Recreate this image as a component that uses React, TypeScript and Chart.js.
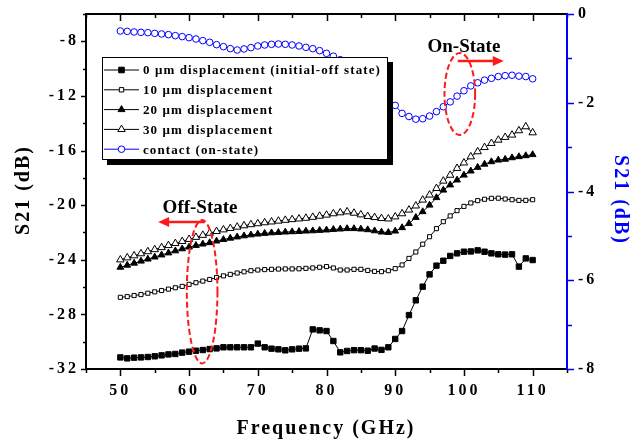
import React, { useEffect, useRef } from 'react';
import { Chart, registerables } from 'chart.js';

Chart.register(...registerables);

// ---------------- data ----------------
const FREQ = [
  50, 51, 52, 53, 54, 55, 56, 57, 58, 59,
  60, 61, 62, 63, 64, 65, 66, 67, 68, 69,
  70, 71, 72, 73, 74, 75, 76, 77, 78, 79,
  80, 81, 82, 83, 84, 85, 86, 87, 88, 89,
  90, 91, 92, 93, 94, 95, 96, 97, 98, 99,
  100, 101, 102, 103, 104, 105, 106, 107, 108, 109, 110,
];

// 0 um displacement (initial-off state), left axis (dB)
const S21_0UM = [
  -31.15, -31.22, -31.17, -31.15, -31.12, -31.07, -31.0, -30.93, -30.9, -30.8,
  -30.73, -30.66, -30.61, -30.54, -30.49, -30.41, -30.41, -30.41, -30.41, -30.41,
  -30.14, -30.41, -30.51, -30.56, -30.63, -30.56, -30.51, -30.49, -29.1, -29.17,
  -29.22, -29.95, -30.78, -30.68, -30.62, -30.62, -30.66, -30.5, -30.6, -30.41,
  -29.8, -29.22, -28.05, -26.97, -25.97, -25.07, -24.43, -24.07, -23.72, -23.53,
  -23.41, -23.39, -23.31, -23.41, -23.53, -23.6, -23.62, -23.6, -24.5, -23.9, -24.02,
];

// 10 um displacement
const S21_10UM = [
  -26.75, -26.7, -26.62, -26.55, -26.45, -26.35, -26.25, -26.15, -26.05, -25.95,
  -25.8, -25.68, -25.56, -25.44, -25.3, -25.18, -25.07, -24.97, -24.88, -24.8,
  -24.75, -24.72, -24.7, -24.68, -24.67, -24.67, -24.66, -24.63, -24.6, -24.55,
  -24.5, -24.6, -24.75, -24.75, -24.7, -24.7, -24.78, -24.85, -24.87, -24.8,
  -24.65, -24.38, -23.9, -23.43, -22.86, -22.31, -21.72, -21.21, -20.79, -20.4,
  -20.09, -19.84, -19.67, -19.57, -19.5, -19.49, -19.55, -19.6, -19.65, -19.65, -19.6,
];

// 20 um displacement
const S21_20UM = [
  -24.55, -24.4, -24.25, -24.1, -23.95, -23.8, -23.65, -23.5, -23.35, -23.2,
  -23.07, -22.95, -22.85, -22.75, -22.63, -22.52, -22.42, -22.33, -22.25, -22.18,
  -22.12, -22.07, -22.03, -22.0, -21.97, -21.95, -21.93, -21.9, -21.88, -21.85,
  -21.82, -21.78, -21.75, -21.72, -21.72, -21.75, -21.8, -21.88, -21.97, -22.0,
  -21.9, -21.65, -21.35, -20.9, -20.48, -20.0, -19.45, -18.9, -18.52, -18.16,
  -17.8, -17.5, -17.23, -17.0, -16.82, -16.7, -16.64, -16.53, -16.45, -16.38, -16.3,
];

// 30 um displacement
const S21_30UM = [
  -24.0, -23.85, -23.7, -23.55, -23.4, -23.25, -23.1, -22.95, -22.8, -22.65,
  -22.5, -22.35, -22.2, -22.05, -21.92, -21.8, -21.7, -21.6, -21.5, -21.42,
  -21.35, -21.28, -21.22, -21.16, -21.1, -21.05, -21.0, -20.95, -20.88, -20.8,
  -20.72, -20.62, -20.55, -20.48, -20.58, -20.7, -20.82, -20.9, -20.97, -21.0,
  -20.85, -20.62, -20.35, -20.05, -19.62, -19.25, -18.77, -18.23, -17.8, -17.3,
  -16.9, -16.45, -16.08, -15.77, -15.47, -15.23, -15.03, -14.86, -14.54, -14.25, -14.69,
];

// contact (on-state), right axis (dB)
const S21_CONTACT = [
  -0.383, -0.391, -0.405, -0.413, -0.42, -0.436, -0.45, -0.465, -0.488, -0.51,
  -0.533, -0.563, -0.6, -0.638, -0.691, -0.736, -0.781, -0.811, -0.788, -0.758,
  -0.721, -0.698, -0.683, -0.676, -0.683, -0.698, -0.721, -0.751, -0.781, -0.826,
  -0.886, -0.95, -1.03, -1.13, -1.25, -1.38, -1.52, -1.66, -1.8, -1.93,
  -2.06, -2.24, -2.31, -2.37, -2.36, -2.3, -2.2, -2.09, -1.98, -1.85,
  -1.73, -1.62, -1.55, -1.49, -1.45, -1.41, -1.39, -1.38, -1.4, -1.41, -1.46,
];

const SERIES_LABELS = [
  '0 μm displacement (initial-off state)',
  '10 μm displacement',
  '20 μm displacement',
  '30 μm displacement',
  'contact (on-state)',
];

const X_TITLE = 'Frequency (GHz)';
const Y_TITLE = 'S21 (dB)';
const Y2_TITLE = 'S21 (dB)';
const ON_LABEL = 'On-State';
const OFF_LABEL = 'Off-State';

const FONT = '"Liberation Serif", "Times New Roman", serif';
const BLUE = '#0000ff';
const RED = '#ff1a1a';

type Marker = 'rect' | 'rectOpen' | 'tri' | 'triOpen' | 'circle';

function drawMarker(ctx: CanvasRenderingContext2D, kind: Marker, x: number, y: number) {
  ctx.save();
  ctx.lineWidth = 1;
  ctx.beginPath();
  if (kind === 'rect' || kind === 'rectOpen') {
    const s = kind === 'rect' ? 2.8 : 2.2;
    ctx.rect(x - s, y - s, 2 * s, 2 * s);
    ctx.fillStyle = kind === 'rect' ? '#000' : '#fff';
    ctx.strokeStyle = '#000';
  } else if (kind === 'tri' || kind === 'triOpen') {
    const r = kind === 'tri' ? 4 : 4.3;
    for (let i = 0; i < 3; i++) {
      const a = (i * 2 * Math.PI) / 3;
      const px = x + Math.sin(a) * r;
      const py = y - Math.cos(a) * r;
      if (i === 0) ctx.moveTo(px, py);
      else ctx.lineTo(px, py);
    }
    ctx.closePath();
    ctx.fillStyle = kind === 'tri' ? '#000' : '#fff';
    ctx.strokeStyle = '#000';
  } else {
    ctx.arc(x, y, 3.3, 0, Math.PI * 2);
    ctx.fillStyle = '#fff';
    ctx.strokeStyle = BLUE;
  }
  ctx.fill();
  ctx.stroke();
  ctx.restore();
}

const LEGEND_MARKERS: Marker[] = ['rect', 'rectOpen', 'tri', 'triOpen', 'circle'];
const LEGEND_COLORS = ['#000', '#000', '#000', '#000', BLUE];

const overlayPlugin = {
  id: 'overlay',
  beforeDraw(chart: any) {
    const ctx = chart.ctx as CanvasRenderingContext2D;
    (ctx as any).letterSpacing = '3px';
    ctx.save();
    ctx.fillStyle = '#fff';
    ctx.fillRect(0, 0, chart.width, chart.height);
    ctx.restore();
  },
  afterDatasetsDraw(chart: any) {
    const ctx = chart.ctx as CanvasRenderingContext2D;
    const { left, right, top, bottom } = chart.chartArea;
    const xs = chart.scales.x;
    const ys = chart.scales.y;
    const y2 = chart.scales.y2;
    ctx.save();
    (ctx as any).letterSpacing = '0px';

    // ---- ticks ----
    ctx.strokeStyle = '#000';
    ctx.lineWidth = 1.5;
    for (let v = 45; v <= 115; v += 5) {
      const px = Math.round(xs.getPixelForValue(v)) + 0.5;
      const len = v % 10 === 0 ? 7 : 4;
      ctx.beginPath();
      ctx.moveTo(px, bottom);
      ctx.lineTo(px, bottom + len);
      ctx.moveTo(px, top);
      ctx.lineTo(px, top + len);
      ctx.stroke();
    }
    for (let v = -32; v <= -6; v += 2) {
      const py = Math.round(ys.getPixelForValue(v)) + 0.5;
      const len = v % 4 === 0 ? 5 : 3;
      ctx.beginPath();
      ctx.moveTo(left, py);
      ctx.lineTo(left - len, py);
      ctx.stroke();
    }
    ctx.strokeStyle = BLUE;
    for (let v = -8; v <= 0; v += 1) {
      const py = Math.round(y2.getPixelForValue(v)) + 0.5;
      const len = v % 2 === 0 ? 7 : 5;
      ctx.beginPath();
      ctx.moveTo(right, py);
      ctx.lineTo(right + len, py);
      ctx.stroke();
    }

    // ---- frame ----
    ctx.lineWidth = 2;
    ctx.strokeStyle = '#000';
    ctx.beginPath();
    ctx.moveTo(left, top);
    ctx.lineTo(right, top);
    ctx.moveTo(left, bottom);
    ctx.lineTo(right, bottom);
    ctx.moveTo(left, top - 1);
    ctx.lineTo(left, bottom + 1);
    ctx.stroke();
    ctx.strokeStyle = BLUE;
    ctx.beginPath();
    ctx.moveTo(right, top - 1);
    ctx.lineTo(right, bottom + 1);
    ctx.stroke();

    // ---- annotations (data coordinates, left axis) ----
    const ellipse = (cx: number, cy: number, rxG: number, ryD: number) => {
      const px = xs.getPixelForValue(cx);
      const py = ys.getPixelForValue(cy);
      const rx = Math.abs(xs.getPixelForValue(cx + rxG) - px);
      const ry = Math.abs(ys.getPixelForValue(cy + ryD) - py);
      ctx.save();
      ctx.strokeStyle = RED;
      ctx.lineWidth = 2;
      ctx.setLineDash([6, 3]);
      ctx.beginPath();
      ctx.ellipse(px, py, rx, ry, 0, 0, Math.PI * 2);
      ctx.stroke();
      ctx.restore();
    };
    const arrow = (x0: number, x1: number, yv: number) => {
      const p0 = xs.getPixelForValue(x0);
      const p1 = xs.getPixelForValue(x1);
      const py = ys.getPixelForValue(yv);
      const dir = Math.sign(p1 - p0);
      ctx.save();
      ctx.strokeStyle = RED;
      ctx.fillStyle = RED;
      ctx.lineWidth = 2.5;
      ctx.beginPath();
      ctx.moveTo(p0, py);
      ctx.lineTo(p1 - dir * 9, py);
      ctx.stroke();
      ctx.beginPath();
      ctx.moveTo(p1, py);
      ctx.lineTo(p1 - dir * 11, py - 5);
      ctx.lineTo(p1 - dir * 11, py + 5);
      ctx.closePath();
      ctx.fill();
      ctx.restore();
    };
    const label = (text: string, xv: number, yv: number) => {
      ctx.save();
      ctx.fillStyle = '#000';
      ctx.font = `bold 19px ${FONT}`;
      ctx.textAlign = 'center';
      ctx.textBaseline = 'middle';
      ctx.fillText(text, xs.getPixelForValue(xv), ys.getPixelForValue(yv));
      ctx.restore();
    };

    ellipse(99.4, -11.86, 2.23, 3.0);
    arrow(99.1, 105.8, -9.44);
    label(ON_LABEL, 100.0, -8.45);

    ellipse(61.9, -26.34, 2.23, 5.25);
    arrow(62.3, 55.5, -21.23);
    label(OFF_LABEL, 61.6, -20.2);

    // ---- legend box ----
    const LX = 102, LY = 57, LW = 286, LH = 103;
    ctx.fillStyle = '#000';
    ctx.fillRect(LX + 5, LY + 5, LW, LH);
    ctx.fillStyle = '#fff';
    ctx.fillRect(LX, LY, LW, LH);
    ctx.strokeStyle = '#000';
    ctx.lineWidth = 1;
    ctx.strokeRect(LX + 0.5, LY + 0.5, LW - 1, LH - 1);
    ctx.font = `bold 13px ${FONT}`;
    (ctx as any).letterSpacing = '1.1px';
    ctx.textAlign = 'left';
    ctx.textBaseline = 'middle';
    SERIES_LABELS.forEach((t, i) => {
      const ry = LY + 13 + i * 19.8;
      ctx.strokeStyle = LEGEND_COLORS[i];
      ctx.lineWidth = 1;
      ctx.beginPath();
      ctx.moveTo(104, ry);
      ctx.lineTo(139, ry);
      ctx.stroke();
      drawMarker(ctx, LEGEND_MARKERS[i], 121.5, ry);
      ctx.fillStyle = '#000';
      ctx.fillText(t, 143, ry + 1);
    });

    // ---- axis titles ----
    ctx.font = `bold 20px ${FONT}`;
    (ctx as any).letterSpacing = '2px';
    ctx.textAlign = 'center';
    ctx.textBaseline = 'middle';
    ctx.fillStyle = '#000';
    ctx.fillText(X_TITLE, 326, 429);

    ctx.save();
    ctx.translate(24, 190);
    ctx.rotate(-Math.PI / 2);
    ctx.fillText(Y_TITLE, 0, 0);
    ctx.restore();

    ctx.save();
    ctx.translate(620, 200);
    ctx.rotate(Math.PI / 2);
    ctx.fillStyle = BLUE;
    ctx.fillText(Y2_TITLE, 0, 0);
    ctx.restore();

    ctx.restore();
  },
};

const noPadV = (w: number) => (s: any) => {
  s.width = w;
  s.paddingTop = 0;
  s.paddingBottom = 0;
};

export default function App() {
  const ref = useRef<HTMLCanvasElement>(null);

  useEffect(() => {
    if (!ref.current) return;
    const pts = (ys: number[]) => FREQ.map((x, i) => ({ x, y: ys[i] }));
    const tickFont = { family: FONT, size: 16, weight: 'bold' as const };

    const chart = new Chart(ref.current, {
      type: 'line',
      data: {
        datasets: [
          {
            label: SERIES_LABELS[0],
            data: pts(S21_0UM),
            yAxisID: 'y',
            borderColor: '#000',
            borderWidth: 1,
            pointStyle: 'rect',
            pointRadius: 3.8,
            pointBackgroundColor: '#000',
            pointBorderColor: '#000',
            pointBorderWidth: 1,
          },
          {
            label: SERIES_LABELS[1],
            data: pts(S21_10UM),
            yAxisID: 'y',
            borderColor: '#000',
            borderWidth: 1,
            pointStyle: 'rect',
            pointRadius: 2.9,
            pointBackgroundColor: '#fff',
            pointBorderColor: '#000',
            pointBorderWidth: 1,
          },
          {
            label: SERIES_LABELS[2],
            data: pts(S21_20UM),
            yAxisID: 'y',
            borderColor: '#000',
            borderWidth: 1,
            pointStyle: 'triangle',
            pointRadius: 3.9,
            pointBackgroundColor: '#000',
            pointBorderColor: '#000',
            pointBorderWidth: 1,
          },
          {
            label: SERIES_LABELS[3],
            data: pts(S21_30UM),
            yAxisID: 'y',
            borderColor: '#000',
            borderWidth: 1,
            pointStyle: 'triangle',
            pointRadius: 4.3,
            pointBackgroundColor: '#fff',
            pointBorderColor: '#000',
            pointBorderWidth: 1,
          },
          {
            label: SERIES_LABELS[4],
            data: pts(S21_CONTACT),
            yAxisID: 'y2',
            borderColor: BLUE,
            borderWidth: 1,
            pointStyle: 'circle',
            pointRadius: 3.3,
            pointBackgroundColor: '#fff',
            pointBorderColor: BLUE,
            pointBorderWidth: 1,
          },
        ],
      },
      options: {
        responsive: false,
        animation: false,
        devicePixelRatio: 1,
        layout: { padding: { top: 14, left: 0, right: 0, bottom: 0 } },
        plugins: {
          legend: { display: false },
          tooltip: { enabled: false },
        },
        elements: { line: { tension: 0 } },
        scales: {
          x: {
            type: 'linear',
            position: 'bottom',
            min: 45,
            max: 115,
            afterFit: (s: any) => {
              s.height = 74;
              s.paddingLeft = 0;
              s.paddingRight = 0;
            },
            grid: { display: false, drawTicks: false },
            border: { display: false },
            ticks: {
              stepSize: 5,
              autoSkip: false,
              maxRotation: 0,
              padding: 12,
              color: '#000',
              font: tickFont,
              callback: (v: any) => (Number(v) % 10 === 0 && v >= 50 && v <= 110 ? String(v) : ''),
            },
          },
          y: {
            type: 'linear',
            position: 'left',
            min: -32,
            max: -6,
            afterFit: noPadV(86),
            grid: { display: false, drawTicks: false },
            border: { display: false },
            ticks: {
              stepSize: 2,
              autoSkip: false,
              padding: 7,
              color: '#000',
              font: tickFont,
              callback: (v: any) => (Number(v) % 4 === 0 ? String(v) : ''),
            },
          },
          y2: {
            type: 'linear',
            position: 'right',
            min: -8,
            max: 0,
            afterFit: noPadV(63),
            grid: { display: false, drawTicks: false },
            border: { display: false },
            ticks: {
              stepSize: 1,
              autoSkip: false,
              padding: 11,
              color: '#000',
              font: tickFont,
              callback: (v: any) => (Number(v) % 2 === 0 ? String(v) : ''),
            },
          },
        },
      },
      plugins: [overlayPlugin],
    });

    return () => chart.destroy();
  }, []);

  return (
    <div style={{ position: 'absolute', left: 0, top: 0, width: 630, height: 443, background: '#fff' }}>
      <canvas ref={ref} width={630} height={443} style={{ width: 630, height: 443, display: 'block' }} />
    </div>
  );
}
